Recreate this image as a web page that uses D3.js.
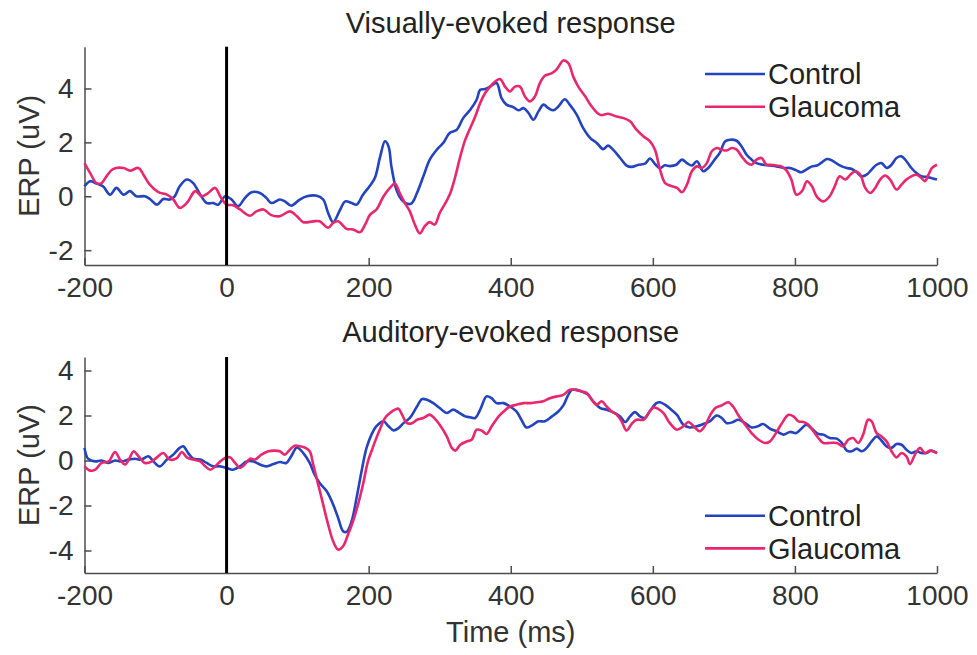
<!DOCTYPE html>
<html lang="en">
<head>
<meta charset="utf-8">
<title>ERP: visual and auditory</title>
<script src="https://d3js.org/d3.v7.min.js"></script>
<style>
  body { margin: 0; background: #fff; }
  svg { font-family: "Liberation Sans", Arial, Helvetica, sans-serif; }
  .axis path, .axis line { stroke: #4d4d4d; stroke-width: 1.5; }
  .axis text { fill: #333; font-size: 28px; }
  .title { fill: #222; font-size: 29px; text-anchor: middle; }
  .label { fill: #333; font-size: 29px; text-anchor: middle; }
  .legend text { fill: #222; font-size: 29px; }
</style>
</head>
<body>
<script>
// values: [time ms, ERP uV]
var visControl = [[-200,0.37],[-192,0.56],[-183,0.47],[-174,0.37],[-164,0.06],[-155,0.31],[-145,0.06],[-136,0.19],[-127,0],[-115,0],[-108,-0.1],[-98,-0.31],[-89,-0.1],[-80,-0.12],[-73,0],[-66,0.37],[-56,0.62],[-47,0.49],[-37,0.06],[-28,-0.25],[-19,-0.25],[-12,-0.31],[-2,0],[7,-0.12],[16,-0.37],[26,-0.06],[35,0.15],[47,0.12],[56,-0.06],[63,-0.25],[75,-0.12],[82,-0.19],[91,-0.35],[103,-0.12],[113,0],[127,0.02],[136,-0.12],[143,-0.62],[150,-0.96],[160,-0.49],[167,-0.19],[176,-0.25],[183,-0.31],[192,0.06],[202,0.4],[209,0.7],[216,1.45],[223,2.04],[228,1.85],[232,1.11],[239,0.25],[246,-0.12],[253,-0.27],[260,-0.27],[268,0.12],[277,0.74],[286,1.36],[296,1.73],[305,1.98],[314,2.35],[324,2.47],[333,2.9],[343,3.21],[352,3.58],[357,3.95],[364,3.98],[371,4.07],[380,4.2],[387,3.64],[394,3.4],[404,3.3],[411,3.19],[418,3.27],[425,3.09],[432,2.84],[439,3.15],[446,3.4],[453,3.27],[460,3.19],[467,3.33],[476,3.6],[483,3.4],[493,3.02],[502,2.53],[512,2.16],[521,1.98],[530,1.75],[537,1.88],[544,1.73],[554,1.42],[563,1.14],[570,1.09],[580,1.17],[589,1.21],[596,1.4],[603,1.2],[610,1.05],[617,1.15],[624,1.12],[633,1.17],[641,1.36],[648,1.23],[655,1.14],[662,1.3],[671,0.93],[678,1.05],[687,1.36],[694,1.6],[702,2.04],[709,2.1],[718,2.06],[725,1.85],[732,1.54],[739,1.36],[746,1.23],[755,1.17],[765,1.14],[774,1.11],[784,1.05],[793,1.05],[802,0.96],[809,0.89],[816,0.99],[824,1.11],[831,1.14],[838,1.26],[845,1.38],[852,1.33],[859,1.21],[866,1.11],[873,1.05],[880,1.01],[887,0.89],[894,0.74],[901,0.8],[908,0.99],[915,1.17],[922,1.23],[929,1.05],[936,1.17],[943,1.42],[950,1.48],[957,1.3],[964,1.05],[971,0.86],[978,0.74],[985,0.72],[992,0.68],[1000,0.62]];

var visGlaucoma = [[-200,1.23],[-192,0.86],[-183,0.49],[-176,0.49],[-169,0.74],[-160,1.01],[-145,1.05],[-136,0.95],[-124,1.05],[-117,0.8],[-108,0.43],[-96,0.15],[-84,0.06],[-75,-0.12],[-66,-0.43],[-56,-0.25],[-44,0.19],[-35,0],[-26,0.12],[-16,0.31],[-9,0],[0,-0.31],[9,-0.33],[19,-0.49],[33,-0.72],[42,-0.56],[52,-0.49],[63,-0.7],[75,-0.74],[89,-0.56],[99,-0.74],[108,-0.96],[122,-0.93],[131,-0.93],[143,-1.17],[150,-0.99],[157,-0.93],[169,-1.21],[178,-1.23],[188,-1.33],[195,-1.05],[202,-0.68],[211,-0.49],[221,0],[230,0.31],[237,0.47],[244,0.1],[251,-0.25],[258,-0.56],[265,-1.05],[272,-1.38],[279,-1.11],[286,-0.96],[293,-1.05],[300,-0.62],[308,-0.25],[315,0.12],[322,0.74],[329,1.48],[336,2.1],[343,2.53],[350,2.96],[357,3.46],[364,3.83],[371,4.07],[378,4.26],[385,4.35],[392,4.07],[399,3.89],[406,4.07],[413,4.07],[420,3.7],[427,3.52],[434,3.7],[441,4.2],[448,4.47],[458,4.57],[465,4.72],[474,5.04],[481,4.94],[488,4.44],[495,4.07],[505,3.7],[514,3.33],[526,3.02],[537,3.06],[549,2.96],[559,2.9],[568,2.78],[577,2.47],[587,2.22],[596,2.04],[603,1.73],[610,1.0],[617,0.5],[624,0.4],[634,0.31],[641,0.15],[648,0.43],[655,0.93],[662,1.11],[669,1.05],[676,1.23],[683,1.67],[690,1.79],[697,1.73],[704,1.7],[711,1.79],[718,1.73],[725,1.48],[732,1.26],[739,1.17],[746,1.36],[753,1.42],[760,1.17],[767,1.17],[774,1.14],[781,1.11],[788,0.96],[795,0.62],[802,0.06],[810,0.19],[817,0.56],[824,0.37],[831,-0.02],[840,-0.19],[849,0],[856,0.37],[863,0.74],[871,0.62],[878,0.8],[885,0.93],[892,0.8],[899,0.31],[906,0.12],[913,0.31],[920,0.62],[927,0.77],[934,0.62],[943,0.25],[950,0.43],[957,0.62],[964,0.74],[971,0.8],[978,0.68],[983,0.56],[988,0.8],[993,1.05],[1000,1.17]];

var audControl = [[-200,0.56],[-195,0.08],[-185,-0.04],[-176,0],[-166,-0.11],[-157,0],[-148,-0.04],[-138,0.04],[-129,0.08],[-120,0.04],[-110,0.19],[-103,-0.04],[-94,-0.26],[-84,0.04],[-75,0.26],[-66,0.56],[-61,0.63],[-54,0.33],[-47,0.08],[-37,0.04],[-28,-0.11],[-19,-0.26],[-9,-0.26],[0,-0.33],[9,-0.41],[19,-0.26],[28,-0.04],[38,-0.04],[47,-0.18],[56,-0.26],[66,-0.16],[75,-0.07],[84,-0.11],[91,0.19],[99,0.58],[108,0.33],[117,-0.11],[124,-0.63],[131,-1.0],[141,-1.37],[150,-1.96],[157,-2.55],[164,-3.14],[169,-3.17],[176,-2.7],[183,-1.66],[190,-0.48],[197,0.56],[204,1.15],[211,1.53],[221,1.74],[228,1.52],[235,1.34],[242,1.44],[249,1.66],[258,1.89],[268,2.4],[275,2.73],[282,2.7],[291,2.55],[300,2.33],[310,2.11],[319,2.26],[326,2.15],[336,1.96],[343,1.92],[350,1.89],[357,2.26],[366,2.85],[373,2.77],[380,2.55],[390,2.55],[399,2.4],[408,2.18],[415,1.81],[422,1.47],[430,1.56],[439,1.74],[448,1.74],[458,1.96],[467,2.18],[474,2.45],[481,2.92],[486,3.14],[493,3.14],[502,3.04],[509,2.92],[516,2.63],[526,2.33],[535,2.26],[544,2.15],[554,1.96],[561,1.71],[568,1.96],[575,2.15],[582,1.96],[589,1.89],[596,2.2],[605,2.55],[610,2.59],[617,2.48],[626,2.26],[634,2.03],[643,1.59],[652,1.47],[662,1.52],[671,1.62],[680,1.74],[690,2.0],[697,1.89],[704,1.66],[713,1.71],[720,1.81],[730,1.66],[739,1.47],[748,1.52],[755,1.62],[765,1.41],[774,1.3],[784,1.15],[793,1.27],[802,1.22],[809,1.41],[816,1.59],[824,1.41],[833,1.18],[840,1.15],[849,1.0],[859,0.97],[866,0.78],[873,0.44],[880,0.41],[887,0.53],[894,0.41],[901,0.56],[908,0.85],[915,1.07],[922,0.88],[929,0.63],[936,0.56],[943,0.73],[950,0.7],[957,0.48],[964,0.33],[971,0.41],[978,0.33],[985,0.33],[992,0.44],[1000,0.33]];

var audGlaucoma = [[-200,-0.26],[-192,-0.45],[-185,-0.41],[-176,-0.11],[-166,-0.04],[-157,0.38],[-150,0.04],[-143,-0.18],[-136,0.14],[-131,0.41],[-124,0.19],[-115,-0.11],[-105,-0.04],[-98,0.14],[-89,0.33],[-80,0.04],[-70,0.11],[-63,0.38],[-56,0.14],[-47,0.04],[-37,-0.04],[-30,-0.26],[-23,-0.41],[-16,-0.26],[-9,-0.04],[-2,0.11],[5,0.14],[12,-0.11],[19,-0.33],[26,-0.16],[33,0.08],[40,0.04],[49,0.26],[59,0.41],[68,0.44],[75,0.41],[82,0.26],[89,0.48],[96,0.66],[103,0.63],[110,0.58],[117,0.41],[122,-0.18],[129,-1.07],[136,-1.96],[143,-2.85],[150,-3.59],[157,-3.96],[164,-3.81],[171,-3.29],[178,-2.7],[185,-1.96],[192,-1.07],[199,-0.04],[205,0.5],[209,0.85],[216,1.4],[223,1.89],[230,2.11],[237,2.26],[242,2.3],[247,2.04],[254,1.66],[261,1.66],[268,1.81],[277,1.89],[286,2.04],[293,1.86],[300,1.59],[310,1.07],[317,0.56],[322,0.44],[329,0.7],[338,0.85],[345,0.92],[352,1.37],[359,1.33],[366,1.18],[373,1.51],[383,1.96],[390,2.18],[399,2.4],[408,2.48],[418,2.55],[427,2.55],[437,2.59],[446,2.63],[455,2.77],[465,2.85],[474,2.92],[483,3.14],[491,3.14],[500,3.07],[507,3.0],[514,2.7],[521,2.48],[528,2.63],[535,2.4],[542,2.18],[549,2.04],[556,1.74],[563,1.33],[570,1.62],[577,1.81],[587,1.81],[594,2.11],[601,2.36],[608,2.28],[615,2.11],[624,1.66],[634,1.37],[643,1.52],[650,1.71],[659,1.47],[666,1.3],[673,1.52],[681,2.03],[688,2.33],[697,2.45],[706,2.59],[713,2.4],[720,2.03],[730,1.59],[739,1.22],[749,0.92],[758,0.78],[765,0.85],[772,1.15],[781,1.62],[791,2.03],[798,1.96],[805,1.74],[812,1.71],[819,1.59],[826,1.3],[833,1.0],[840,0.78],[849,0.78],[859,0.78],[868,0.63],[875,0.92],[882,1.0],[889,0.78],[896,1.15],[903,1.81],[908,1.74],[915,1.22],[922,1.07],[929,0.85],[936,0.41],[943,0.14],[950,0.33],[957,0.18],[962,-0.16],[969,0.26],[976,0.56],[983,0.33],[990,0.44],[1000,0.33]];

var xTicks = [-200, 0, 200, 400, 600, 800, 1000];
var visYTicks = [-2, 0, 2, 4];
var audYTicks = [-4, -2, 0, 2, 4];
var seriesNames = ["Control", "Glaucoma"];
var seriesColors = ["#2343bf", "#e8286e"];

var width = 977, height = 655;

var svg = d3.select("body").append("svg")
    .attr("width", width)
    .attr("height", height);

var x = d3.scaleLinear().domain([-200, 1000]).range([84.5, 937]);

function panel(title, yDomain, yRange, yTicks, series, legendY, titleY) {
    var y = d3.scaleLinear().domain(yDomain).range(yRange);
    var g = svg.append("g");

    g.append("text").attr("class", "title")
        .attr("x", (x.range()[0] + x.range()[1]) / 2)
        .attr("y", titleY)
        .text(title);

    g.append("g").attr("class", "axis")
        .attr("transform", "translate(0," + yRange[0] + ")")
        .call(d3.axisBottom(x).tickValues(xTicks).tickFormat(d3.format("d"))
            .tickSizeInner(-7).tickSizeOuter(0).tickPadding(12));

    g.append("g").attr("class", "axis")
        .attr("transform", "translate(" + x.range()[0] + ",0)")
        .call(d3.axisLeft(y).tickValues(yTicks).tickFormat(d3.format("d"))
            .tickSizeInner(-7).tickSizeOuter(0).tickPadding(11));

    g.selectAll(".axis text").text(function() { return this.textContent.replace("\u2212", "-"); });

    g.append("text").attr("class", "label")
        .attr("transform", "translate(39," + (yRange[0] + yRange[1]) / 2 + ") rotate(-90)")
        .text("ERP (uV)");

    var line = d3.line()
        .x(function(d) { return x(d[0]); })
        .y(function(d) { return y(d[1]); })
        .curve(d3.curveCatmullRom);

    series.forEach(function(s, i) {
        g.append("path")
            .attr("d", line(s))
            .attr("fill", "none")
            .attr("stroke", seriesColors[i])
            .attr("stroke-width", 2.6)
            .attr("stroke-linejoin", "round");
    });

    // stimulus onset
    g.append("line")
        .attr("x1", x(0)).attr("x2", x(0))
        .attr("y1", yRange[1]).attr("y2", yRange[0])
        .attr("stroke", "#000").attr("stroke-width", 3);

    var leg = g.append("g").attr("class", "legend");
    seriesNames.forEach(function(name, i) {
        var ly = legendY + i * 32.7;
        leg.append("line")
            .attr("x1", 705).attr("x2", 765)
            .attr("y1", ly).attr("y2", ly)
            .attr("stroke", seriesColors[i]).attr("stroke-width", 2.6);
        leg.append("text")
            .attr("x", 768).attr("y", ly).attr("dy", "0.36em")
            .text(name);
    });
}

panel("Visually-evoked response", [-2.55, 5.55], [265, 46.7], visYTicks,
      [visControl, visGlaucoma], 74, 33);
panel("Auditory-evoked response", [-5, 4.6], [573, 357], audYTicks,
      [audControl, audGlaucoma], 515.7, 341.7);

svg.append("text").attr("class", "label")
    .attr("x", (x.range()[0] + x.range()[1]) / 2)
    .attr("y", 641.7)
    .text("Time (ms)");
</script>
</body>
</html>
